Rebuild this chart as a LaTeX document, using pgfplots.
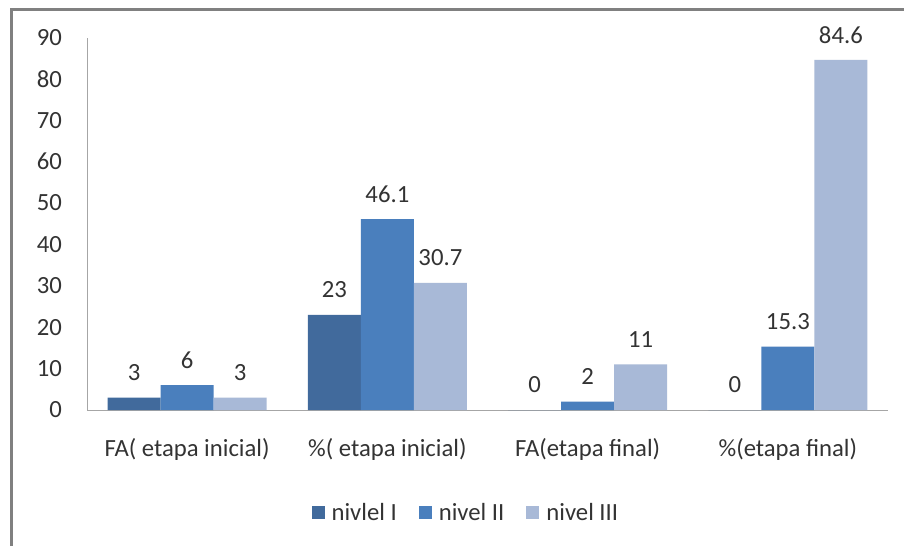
\documentclass[border=0pt]{standalone}
\usepackage{pgfplots}
\pgfplotsset{compat=1.18}
\usepackage{fontspec}
\setmainfont{Carlito}
\definecolor{nivA}{HTML}{416A9C}
\definecolor{nivB}{HTML}{4A7FBD}
\definecolor{nivC}{HTML}{A8B9D7}
\definecolor{txt}{HTML}{333333}
\newcommand{\chartfont}{\fontsize{24.7}{28}\selectfont}
\begin{document}
\begin{tikzpicture}[x=1pt,y=1pt]
\useasboundingbox (0,0) rectangle (904,546);
\fill[white] (0,0) rectangle (904,546);
\draw[line width=3pt, black!50] (11,0) -- (11,536) -- (904,536);
\begin{axis}[
    at={(87pt,136pt)}, anchor=south west,
    scale only axis, width=801pt, height=372.5pt,
    xmin=-0.5, xmax=3.5, ymin=0, ymax=90,
    ybar=0pt, bar width=53pt,
    axis lines*=left,
    axis line style={black!35, line width=1pt},
    major tick length=0pt,
    clip=false,
    xtick={0,1,2,3},
    xticklabels={{FA( etapa inicial)},{\%( etapa inicial)},{FA(etapa final)},{\%(etapa final)}},
    ytick={0,10,...,90},
    /pgf/number format/assume math mode=true,
    tick label style={font=\chartfont, text=txt},
    yticklabel style={anchor=east, inner sep=0pt, xshift=-25pt},
    xticklabel style={anchor=center, inner sep=0pt, yshift=-39pt},
    nodes near coords,
    every node near coord/.append style={font=\chartfont, text=txt, anchor=center, inner sep=0pt, yshift=25pt},
    legend columns=3,
    legend style={at={(0.473,-0.2765)}, anchor=center, draw=none, font=\chartfont, text=txt,
      /tikz/every odd column/.append style={column sep=5pt},
      /tikz/every even column/.append style={column sep=20pt}},
    legend image code/.code={\fill[#1] (0pt,-6.5pt) rectangle (13pt,6.5pt);},
  ]
  \addplot[fill=nivA, draw=none] coordinates {(0,3) (1,23) (2,0) (3,0)};
  \addplot[fill=nivB, draw=none] coordinates {(0,6) (1,46.1) (2,2) (3,15.3)};
  \addplot[fill=nivC, draw=none] coordinates {(0,3) (1,30.7) (2,11) (3,84.6)};
  \legend{nivlel I, nivel II, nivel III}
\end{axis}
\end{tikzpicture}
\end{document}
